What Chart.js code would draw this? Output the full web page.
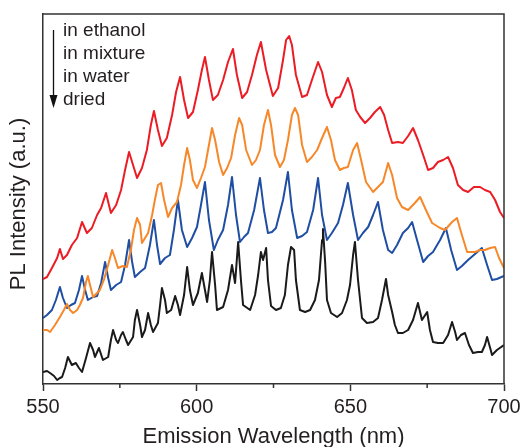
<!DOCTYPE html>
<html>
<head>
<meta charset="utf-8">
<script src="https://cdn.jsdelivr.net/npm/chart.js@4.4.1/dist/chart.umd.min.js"></script>
<style>
  html, body { margin: 0; padding: 0; background: #ffffff; }
  canvas { display: block; }
</style>
</head>
<body>
<canvas id="c" width="521" height="447"></canvas>
<script>
// ---------------- data ----------------
const seriesLabels = ['in ethanol', 'in mixture', 'in water', 'dried'];
const xTickLabels = [550, 600, 650, 700];
const xMinorTicks = [575, 625, 675];
const xTitle = 'Emission Wavelength (nm)';
const yTitle = 'PL Intensity (a.u.)';

const wavelengthEthanol = [550.0,551.3,552.9,554.6,555.5,556.5,557.8,559.4,561.1,562.7,
  564.3,565.9,567.6,568.9,570.5,572.1,573.8,575.4,576.7,578.0,
  579.3,580.6,582.2,583.8,585.1,586.1,587.4,588.7,590.3,592.0,
  593.3,594.6,595.9,597.2,598.8,600.4,601.7,602.7,604.0,605.3,
  606.9,608.6,610.2,611.8,613.1,614.8,616.4,618.0,619.6,620.9,
  622.6,624.8,626.5,628.1,629.1,630.1,631.0,632.3,634.3,635.9,
  637.5,639.5,640.8,642.4,644.0,645.3,646.6,647.9,649.2,650.5,
  651.8,653.2,654.8,656.4,658.0,659.7,661.0,662.3,663.6,665.5,
  667.1,668.8,670.4,672.0,673.7,675.3,676.9,678.5,680.2,681.8,
  683.4,685.0,686.7,688.3,690.2,692.2,693.8,695.5,697.1,698.7,
  700.0];
const intensityEthanol = [105,107,116,126,135,125,129,139,146,162,
  151,156,169,176,191,171,179,194,214,232,
  219,206,216,234,259,273,254,238,246,269,
  292,307,284,266,272,294,314,327,304,284,
  289,304,322,335,309,286,292,309,329,342,
  314,288,296,324,344,348,339,309,287,289,
  304,322,312,289,277,286,287,296,306,294,
  274,267,261,266,272,277,269,254,241,242,
  241,248,256,244,229,214,216,222,224,227,
  216,199,194,192,197,197,194,192,184,172,
  166];

const wavelengthMixture = [550.0,551.3,552.3,553.9,555.5,556.8,557.8,558.8,559.8,561.1,
  562.0,563.0,564.0,564.6,565.3,566.3,567.6,568.5,569.8,571.2,
  572.5,573.4,574.4,576.0,577.3,578.6,579.6,580.6,581.6,582.2,
  583.2,584.2,585.5,586.4,587.4,588.4,589.4,590.7,592.0,593.6,
  594.9,595.9,596.9,597.8,598.8,600.1,601.4,602.7,603.7,605.0,
  606.0,607.3,608.6,609.9,611.2,612.5,613.8,614.8,616.1,618.0,
  619.3,620.6,621.9,623.2,624.2,625.5,627.1,628.4,629.7,631.0,
  632.0,633.0,634.3,635.9,637.5,639.2,640.8,642.4,643.7,645.0,
  646.6,647.9,649.2,650.9,652.2,653.5,655.1,657.4,659.0,660.6,
  662.3,663.6,665.2,666.8,668.8,671.0,672.7,674.6,676.6,679.2,
  680.8,683.1,684.7,686.3,688.0,690.6,692.2,693.8,695.5,697.1,
  698.4,700.0];
const intensityMixture = [54,54,52,59,67,74,80,74,71,74,
  79,86,102,108,99,87,91,94,104,119,
  134,126,116,118,117,134,154,166,159,141,
  146,151,169,184,199,201,184,167,176,182,
  199,219,236,224,204,196,206,217,234,256,
  244,222,209,216,226,249,266,259,234,219,
  224,234,259,274,259,229,217,224,244,269,
  276,269,239,222,227,234,246,257,244,224,
  214,216,217,234,241,224,202,192,197,202,
  221,209,186,177,174,181,187,174,161,156,
  154,162,166,149,132,132,134,134,136,137,
  126,116];

const wavelengthWater = [550.0,551.3,552.9,554.2,555.5,556.5,557.8,559.1,560.4,561.7,
  562.7,563.7,564.6,566.3,567.6,568.9,570.2,571.2,572.1,573.8,
  575.4,576.7,578.0,579.0,579.9,581.6,583.2,584.8,586.1,587.1,
  588.1,589.7,591.3,592.6,593.9,595.2,596.9,598.5,600.1,601.4,
  602.7,604.0,605.6,606.9,608.6,610.2,611.5,612.8,614.1,615.4,
  616.7,618.7,620.6,621.9,623.2,624.5,625.8,628.1,629.7,631.0,
  632.7,634.3,635.9,637.9,639.5,640.8,642.4,644.0,646.0,647.6,
  649.2,650.9,652.5,654.1,655.8,657.4,659.0,660.6,662.3,663.6,
  665.2,667.1,668.8,670.1,671.7,673.7,675.3,676.9,679.2,681.1,
  682.8,684.7,686.3,688.3,690.2,692.8,694.5,696.1,697.7,700.0];
const intensityWater = [66,69,74,84,97,86,76,79,81,94,
  108,94,84,87,88,101,122,106,94,99,
  102,119,144,122,107,112,116,139,164,139,
  120,126,129,154,184,154,137,146,157,179,
  202,164,134,144,154,179,207,169,142,147,
  151,174,206,174,151,152,156,184,212,174,
  146,148,152,174,206,169,144,151,161,179,
  201,169,144,151,157,169,182,154,134,131,
  139,151,156,162,144,122,128,132,144,156,
  134,114,118,124,129,136,119,104,105,108];

const wavelengthDried = [550.0,551.3,552.3,553.6,554.6,555.5,556.2,557.2,558.1,559.4,
  560.7,561.7,562.7,564.0,565.3,566.3,566.9,568.2,569.5,571.2,
  572.1,572.8,573.8,574.4,575.4,576.0,577.0,577.7,579.3,579.9,
  580.6,581.6,582.2,583.2,584.2,585.1,585.8,587.4,588.1,588.7,
  589.7,590.3,591.7,593.0,593.9,594.6,595.9,596.9,597.8,598.8,
  600.4,601.7,602.7,603.4,604.3,605.0,606.0,606.6,608.6,610.2,
  611.5,612.5,613.5,614.4,615.1,617.4,619.0,620.0,620.9,621.6,
  622.6,623.2,624.2,625.8,627.4,628.7,629.7,630.7,631.7,632.3,
  633.6,635.3,636.9,638.5,639.8,640.8,641.1,641.8,642.4,643.7,
  645.7,647.3,648.9,649.9,650.9,651.5,652.5,653.8,655.4,657.4,
  659.0,660.3,661.6,662.3,663.6,664.5,665.5,667.1,668.8,670.4,
  672.0,673.3,675.0,675.9,676.9,678.5,680.2,681.8,683.1,684.1,
  684.7,686.0,687.3,688.6,689.9,691.5,692.8,693.8,694.5,695.5,
  696.1,697.7,700.0];
const intensityDried = [12,13,11,8,4,6,7,16,27,19,
  21,16,12,26,41,34,27,36,24,27,
  44,54,44,41,49,52,44,39,47,64,
  74,59,47,54,71,59,52,61,79,96,
  84,71,74,88,79,69,89,117,94,79,
  91,111,94,82,104,132,99,74,77,94,
  119,101,142,104,79,74,89,109,132,124,
  136,104,78,74,76,89,119,137,134,104,
  74,72,74,84,104,144,155,122,84,71,
  67,71,84,99,129,142,104,66,61,62,
  66,84,105,89,72,59,51,51,54,64,
  81,64,72,54,42,41,41,49,62,52,
  44,49,51,39,31,32,32,39,47,36,
  29,34,39];

// ---------------- styles ----------------
const seriesColors = ['#ec1c24', '#f7882a', '#1f4ea3', '#1a1a1a'];
const AXIS = '#333333';
const TEXT = '#231f20';
const FONT = '"Liberation Sans", Arial, Helvetica, sans-serif';

function pts(xs, ys) { return xs.map((x, i) => ({ x: x, y: ys[i] })); }
const seriesData = [
  pts(wavelengthEthanol, intensityEthanol),
  pts(wavelengthMixture, intensityMixture),
  pts(wavelengthWater, intensityWater),
  pts(wavelengthDried, intensityDried)
];

const decor = {
  id: 'decor',
  afterDraw(chart) {
    const { ctx, chartArea: a, scales } = chart;
    const x = scales.x;
    ctx.save();
    // top and right frame lines
    ctx.strokeStyle = AXIS;
    ctx.lineWidth = 1.5;
    ctx.beginPath();
    ctx.moveTo(a.left, a.top);
    ctx.lineTo(a.right, a.top);
    ctx.lineTo(a.right, a.bottom);
    ctx.stroke();
    // minor ticks
    ctx.beginPath();
    xMinorTicks.forEach(v => {
      const px = x.getPixelForValue(v);
      ctx.moveTo(px, a.bottom);
      ctx.lineTo(px, a.bottom + 4);
    });
    ctx.stroke();
    // y title
    ctx.save();
    ctx.fillStyle = TEXT;
    ctx.font = '22px ' + FONT;
    ctx.textAlign = 'center';
    ctx.textBaseline = 'middle';
    ctx.translate(19, (a.top + a.bottom) / 2 + 5);
    ctx.rotate(-Math.PI / 2);
    ctx.fillText(yTitle, 0, 0);
    ctx.restore();
    // legend with arrow
    ctx.fillStyle = TEXT;
    ctx.font = '19px ' + FONT;
    ctx.textAlign = 'left';
    ctx.textBaseline = 'alphabetic';
    chart.data.datasets.forEach((ds, i) => {
      ctx.fillText(ds.label, a.left + 20, a.top + 22 + i * 23);
    });
    const ax = a.left + 10.5;
    ctx.strokeStyle = '#111';
    ctx.lineWidth = 1.3;
    ctx.beginPath();
    ctx.moveTo(ax, a.top + 16);
    ctx.lineTo(ax, a.top + 84);
    ctx.stroke();
    ctx.fillStyle = '#111';
    ctx.beginPath();
    ctx.moveTo(ax - 4, a.top + 81);
    ctx.lineTo(ax + 4, a.top + 81);
    ctx.lineTo(ax, a.top + 94);
    ctx.closePath();
    ctx.fill();
    ctx.restore();
  }
};

new Chart(document.getElementById('c'), {
  type: 'line',
  data: {
    datasets: seriesLabels.map((label, i) => ({
      label: label,
      data: seriesData[i],
      borderColor: seriesColors[i],
      backgroundColor: seriesColors[i],
      borderWidth: 2,
      pointRadius: 0,
      tension: 0,
      fill: false,
      borderJoinStyle: 'round'
    }))
  },
  options: {
    responsive: false,
    animation: false,
    events: [],
    layout: { padding: { left: 0, right: 17, top: 14, bottom: 0 } },
    plugins: { legend: { display: false }, tooltip: { enabled: false } },
    scales: {
      x: {
        type: 'linear',
        min: 550,
        max: 700,
        afterFit(s) { s.height = 63; s.paddingLeft = 0; s.paddingRight = 0; },
        ticks: {
          stepSize: 25,
          autoSkip: false,
          maxRotation: 0,
          padding: 4,
          color: TEXT,
          font: { family: FONT, size: 20 },
          callback: (v) => xTickLabels.includes(v) ? String(v) : ''
        },
        grid: {
          drawOnChartArea: false,
          drawTicks: true,
          tickLength: 7,
          tickWidth: 1.5,
          tickColor: (c) => (c.tick && xTickLabels.includes(c.tick.value)) ? AXIS : 'rgba(0,0,0,0)'
        },
        border: { display: true, color: AXIS, width: 1.5 },
        title: {
          display: true,
          text: xTitle,
          color: TEXT,
          font: { family: FONT, size: 22, lineHeight: 0.9 },
          padding: { top: 0, bottom: 0 }
        }
      },
      y: {
        min: 0,
        max: 370,
        afterFit(s) { s.width = 43; s.paddingTop = 0; s.paddingBottom = 0; },
        ticks: { display: false },
        grid: { display: false },
        border: { display: true, color: AXIS, width: 1.5 }
      }
    }
  },
  plugins: [decor]
});
</script>
</body>
</html>
